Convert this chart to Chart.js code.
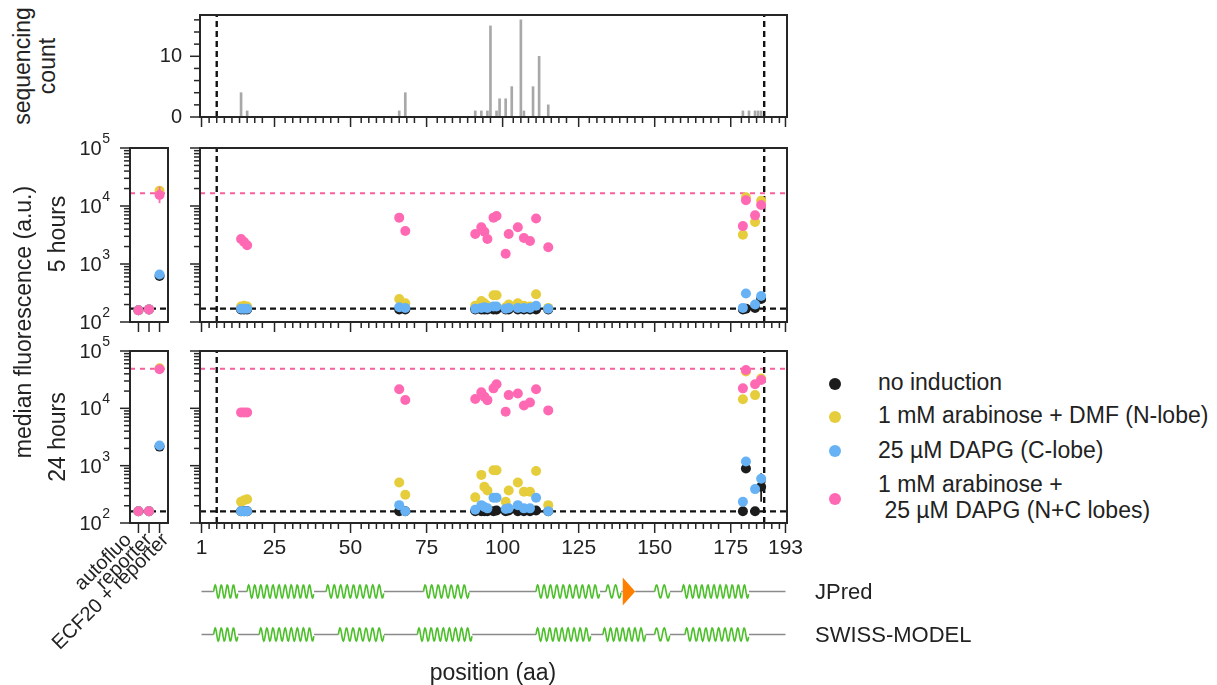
<!DOCTYPE html>
<html><head><meta charset="utf-8">
<script src="https://cdn.jsdelivr.net/npm/chart.js@4.4.1/dist/chart.umd.min.js"></script>
<style>
html,body{margin:0;padding:0;background:#fff;}
body{width:1217px;height:685px;position:relative;overflow:hidden;font-family:'Liberation Sans',Arial,Helvetica,sans-serif;color:#222;}
canvas{position:absolute;}
.t{position:absolute;white-space:pre;line-height:1;}
.dot{position:absolute;border-radius:50%;}
</style></head><body>
<script>
// ---------------- data ----------------
const X_TICKS = [1, 25, 50, 75, 100, 125, 150, 175, 193];
const Y_LOG_TICKS = [100, 1000, 10000, 100000];
const SEQ_Y_TICKS = [0, 10];
const DOMAIN_BOUNDS = [6, 186];

// sequencing histogram
const seqPos   = [14, 16, 66, 68, 91, 93, 95, 96, 98, 99, 101, 103, 106, 107, 110, 112, 115, 179, 181, 183, 184, 185];
const seqCount = [ 4,  1,  1,  4,  1,  1,  1, 15,  1,  3,   3,   5,  16,   1,   5,  10,   2,   1,   1,   1,   1,   1];

// mutant positions (aa)
const positions = [14, 15, 16, 66, 68, 91, 93, 94, 95, 97, 98, 101, 102, 105, 107, 109, 111, 115, 179, 180, 183, 185];

// 5 hours
const h5_none = [165,165,165,165,165,165,165,165,165,165,165,165,165,165,165,165,165,165,165,170,175,250];
const h5_arab = [185,190,185,250,210,190,230,210,190,290,290,180,200,210,190,185,300,175,3200,14100,5300,12300];
const h5_dapg = [170,170,170,180,175,170,175,180,175,185,185,170,175,175,175,175,190,170,175,310,200,280];
const h5_both = [2700,2400,2100,6300,3700,3300,4300,3600,2700,6300,6700,1500,3300,4300,2800,2500,6100,1950,4500,12600,6900,10400];

// 24 hours
const h24_none = [160,160,160,160,160,160,160,160,160,160,165,160,165,160,160,160,165,160,160,890,160,430];
const h24_arab = [235,250,260,510,310,280,690,430,370,830,830,235,370,510,350,350,810,205,14400,44000,17000,33000];
const h24_dapg = [160,160,160,205,160,170,205,190,180,275,275,175,180,205,180,180,275,160,235,1180,390,590];
const h24_both = [8500,8500,8500,21500,14000,14500,19000,16000,13900,22300,26400,8700,17000,18200,11200,12600,21500,9200,22300,46500,26300,31200];

// controls
const ctrlCats = ['autofluo', 'reporter', 'ECF20 + reporter'];
const c5_none = [160, 165, 620],   c5_arab = [160, 165, 18300], c5_dapg = [160, 165, 660],  c5_both = [160, 165, 15500];
const c24_none = [160, 160, 2150], c24_arab = [160, 160, 50000], c24_dapg = [160, 160, 2250], c24_both = [160, 160, 48000];

// visible error bars: [x, low, high]
const err5_both_ctrl = [[2, 11200, 21500]];
const err5_both = [[179, 3900, 5200]];
const err24_none = [[180, 790, 1000], [185, 235, 735]];

// reference levels (reporter alone, ECF20 + reporter)
const ref5 = [170, 16600];
const ref24 = [160, 49000];

// secondary structure (aa ranges)
const jpredHelix = [[5,13],[16,38],[42,61],[74,89],[111,132],[134,139],[150,155],[159,181]];
const jpredStrand = [[139.5,143.6]];
const swissHelix = [[5,13],[20,38],[46,61],[72,90],[111,129],[133,147],[150,155],[160,181]];

// ---------------- style ----------------
const FONT = "'Liberation Sans', Arial, Helvetica, sans-serif";
const TXT = '#222';
const AX = '#262626';
const C_NONE = '#1c1c1c', C_ARAB = '#e6cd3c', C_DAPG = '#66b2f5', C_BOTH = '#ff69b4';
const PINK_DASH = '#f7609f';
const PT_R = 5;
const MAJ = 10, MIN = 6;
const CAT_LABEL_SHIFT = [-10, 0, 6];   // px shift of rotated label ends

const xMinor = [];
for (let v = 3.5; v < 193.5; v += 2.5) if (!X_TICKS.some(m => Math.abs(m - v) < 1.6)) xMinor.push(v);
const logMinor = [];
for (let e = 2; e < 5; e++) for (let m = 2; m < 10; m++) logMinor.push(m * Math.pow(10, e));
const seqMinor = [2, 4, 6, 8, 12, 14, 16];

function makeCanvas(b) {
  const c = document.createElement('canvas');
  c.width = b.w; c.height = b.h;
  c.style.left = b.l + 'px'; c.style.top = b.t + 'px';
  c.style.width = b.w + 'px'; c.style.height = b.h + 'px';
  document.body.appendChild(c);
  return c;
}
function padFor(b, a, yW, xH) {
  return {left: a.l - b.l - yW, right: b.l + b.w - a.r, top: a.t - b.t, bottom: b.t + b.h - a.b - xH};
}
function decor(cfg) {
  return {
    id: 'decor',
    afterDatasetsDraw(chart) {
      const {ctx, chartArea: a, scales} = chart;
      const xs = scales.x, ys = scales.y;
      ctx.save();
      ctx.strokeStyle = AX; ctx.lineWidth = 1.5;
      const line = (x1, y1, x2, y2) => { ctx.beginPath(); ctx.moveTo(x1, y1); ctx.lineTo(x2, y2); ctx.stroke(); };
      const xt = (vals, len) => vals.forEach(v => { const p = xs.getPixelForValue(v); if (p < a.left - 1 || p > a.right + 1) return; line(p, a.bottom, p, a.bottom + len); });
      const yt = (vals, len) => vals.forEach(v => { const p = ys.getPixelForValue(v); if (p < a.top - 1 || p > a.bottom + 1) return; line(a.left, p, a.left - len, p); });
      if (cfg.xMajor) xt(cfg.xMajor, MAJ);
      if (cfg.xMinor) xt(cfg.xMinor, MIN);
      if (cfg.yMajor) yt(cfg.yMajor, MAJ);
      if (cfg.yMinor) yt(cfg.yMinor, MIN);
      ctx.lineWidth = 2;
      ctx.strokeRect(a.left, a.top, a.right - a.left, a.bottom - a.top);
      ctx.fillStyle = TXT;
      if (cfg.supLabels) {
        cfg.supLabels.forEach(v => {
          const p = ys.getPixelForValue(v);
          const e = String(Math.round(Math.log10(v)));
          const xEnd = a.left - 20;
          ctx.font = '14px ' + FONT; const w2 = ctx.measureText(e).width;
          ctx.textAlign = 'left'; ctx.textBaseline = 'alphabetic';
          ctx.fillText(e, xEnd - w2, p - 5);
          ctx.font = '20px ' + FONT; ctx.textAlign = 'right';
          ctx.fillText('10', xEnd - w2 - 0.5, p + 7);
        });
      }
      if (cfg.rotLabels) {
        ctx.font = '20px ' + FONT; ctx.textAlign = 'right'; ctx.textBaseline = 'middle';
        cfg.rotLabels.forEach((s, i) => {
          const p = xs.getPixelForValue(i) + CAT_LABEL_SHIFT[i];
          ctx.save();
          ctx.translate(p, a.bottom + 14);
          ctx.rotate(-Math.PI / 4);
          ctx.fillText(s, 0, 0);
          ctx.restore();
        });
      }
      ctx.restore();
    }
  };
}
function pts(xs, ys, color, order) {
  return {type: 'scatter', data: xs.map((x, i) => ({x, y: ys[i]})), pointRadius: PT_R, pointHoverRadius: PT_R,
    pointBackgroundColor: color, pointBorderWidth: 0, backgroundColor: color, borderColor: color, order};
}
function seg(x1, y1, x2, y2, color, width, dash, order) {
  return {type: 'line', data: [{x: x1, y: y1}, {x: x2, y: y2}], borderColor: color, borderWidth: width,
    borderDash: dash, pointRadius: 0, showLine: true, fill: false, order: order || 10};
}
function errs(list, color, order) {
  return list.map(([x, lo, hi]) => seg(x, lo, x, hi, color, 1.8, [], order));
}
const baseOpts = (pad) => ({
  responsive: false, animation: false, events: [],
  layout: {padding: pad},
  plugins: {legend: {display: false}, tooltip: {enabled: false}}
});
const hidY = (yW, type, min, max) => ({type, min, max, grid: {display: false, drawTicks: false}, border: {display: false},
  ticks: {display: false}, afterFit: s => { s.width = yW; s.paddingTop = 0; s.paddingBottom = 0; }});

// ---------------- sequencing histogram ----------------
(function () {
  const b = {l: 150, t: 0, w: 660, h: 140}, a = {l: 200, r: 787, t: 15, b: 117};
  const cv = makeCanvas(b);
  new Chart(cv, {
    type: 'bar',
    data: {datasets: [
      {type: 'bar', data: seqPos.map((p, i) => ({x: p, y: seqCount[i]})), backgroundColor: '#a8a8a8', barThickness: 2, order: 5},
      seg(DOMAIN_BOUNDS[0], 0, DOMAIN_BOUNDS[0], 16.8, '#111', 2.4, [6, 4]),
      seg(DOMAIN_BOUNDS[1], 0, DOMAIN_BOUNDS[1], 16.8, '#111', 2.4, [6, 4])
    ]},
    options: Object.assign(baseOpts(padFor(b, a, 50, 12)), {
      scales: {
        x: {type: 'linear', min: 0.5, max: 193.5, offset: false, grid: {display: false, drawTicks: false, offset: false}, border: {display: false},
          ticks: {display: false}, afterFit: s => { s.height = 12; s.paddingLeft = 0; s.paddingRight = 0; }},
        y: {type: 'linear', min: 0, max: 16.8, grid: {display: false, drawTicks: false}, border: {display: false},
          ticks: {display: true, padding: 18, color: TXT, font: {family: FONT, size: 20}},
          afterBuildTicks: s => { s.ticks = SEQ_Y_TICKS.map(v => ({value: v})); },
          afterFit: s => { s.width = 50; s.paddingTop = 0; s.paddingBottom = 0; }}
      }
    }),
    plugins: [decor({xMajor: X_TICKS, xMinor, yMajor: SEQ_Y_TICKS, yMinor: seqMinor})]
  });
})();

// ---------------- main panels ----------------
function mainPanel(b, a, xH, none, arab, dapg, both, ref, labels, extra) {
  const cv = makeCanvas(b);
  new Chart(cv, {
    type: 'scatter',
    data: {datasets: [
      seg(DOMAIN_BOUNDS[0], 100, DOMAIN_BOUNDS[0], 100000, '#111', 2.4, [6, 4]),
      seg(DOMAIN_BOUNDS[1], 100, DOMAIN_BOUNDS[1], 100000, '#111', 2.4, [6, 4]),
      seg(0.5, ref[0], 193.5, ref[0], '#111', 2.2, [6, 4]),
      seg(0.5, ref[1], 193.5, ref[1], PINK_DASH, 2, [5, 5]),
      ...extra,
      pts(positions, none, C_NONE, 4),
      pts(positions, arab, C_ARAB, 3),
      pts(positions, dapg, C_DAPG, 2),
      pts(positions, both, C_BOTH, 1)
    ]},
    options: Object.assign(baseOpts(padFor(b, a, 10, xH)), {
      scales: {
        x: {type: 'linear', min: 0.5, max: 193.5, grid: {display: false, drawTicks: false}, border: {display: false},
          ticks: {display: labels, autoSkip: false, maxRotation: 0, minRotation: 0, padding: 13, color: TXT,
            font: {family: FONT, size: 21}, callback: v => String(v)},
          afterBuildTicks: s => { s.ticks = X_TICKS.map(v => ({value: v})); },
          afterFit: s => { s.height = xH; s.paddingLeft = 0; s.paddingRight = 0; }},
        y: hidY(10, 'logarithmic', 100, 100000)
      }
    }),
    plugins: [decor({xMajor: X_TICKS, xMinor, yMajor: Y_LOG_TICKS, yMinor: logMinor})]
  });
}
mainPanel({l: 190, t: 135, w: 620, h: 200}, {l: 200, r: 787, t: 148, b: 322}, 12, h5_none, h5_arab, h5_dapg, h5_both, ref5, false,
  errs(err5_both, C_BOTH, 1));
mainPanel({l: 190, t: 338, w: 620, h: 240}, {l: 200, r: 787, t: 351, b: 523}, 40, h24_none, h24_arab, h24_dapg, h24_both, ref24, true,
  errs(err24_none, C_NONE, 4));

// ---------------- control panels ----------------
function ctrlPanel(b, a, xH, none, arab, dapg, both, ref, labels, extra) {
  const cv = makeCanvas(b);
  const cx = [0, 1, 2];
  new Chart(cv, {
    type: 'scatter',
    data: {datasets: [
      seg(-0.8, ref[0], 2.8, ref[0], '#111', 2.2, [6, 4]),
      seg(-0.8, ref[1], 2.8, ref[1], PINK_DASH, 2, [5, 5]),
      ...extra,
      pts(cx, none, C_NONE, 4),
      pts(cx, arab, C_ARAB, 3),
      pts(cx, dapg, C_DAPG, 2),
      pts(cx, both, C_BOTH, 1)
    ]},
    options: Object.assign(baseOpts(padFor(b, a, 60, xH)), {
      scales: {
        x: {type: 'linear', min: -0.8, max: 2.8, grid: {display: false, drawTicks: false}, border: {display: false},
          ticks: {display: false},
          afterBuildTicks: s => { s.ticks = cx.map(v => ({value: v})); },
          afterFit: s => { s.height = xH; s.paddingLeft = 0; s.paddingRight = 0; }},
        y: hidY(60, 'logarithmic', 100, 100000)
      }
    }),
    plugins: [decor({xMajor: cx, yMajor: Y_LOG_TICKS, yMinor: logMinor, supLabels: Y_LOG_TICKS, rotLabels: labels ? ctrlCats : null})]
  });
}
ctrlPanel({l: 0, t: 125, w: 190, h: 210}, {l: 130, r: 168, t: 148, b: 322}, 12, c5_none, c5_arab, c5_dapg, c5_both, ref5, false,
  errs(err5_both_ctrl, C_BOTH, 1));
ctrlPanel({l: 0, t: 330, w: 190, h: 355}, {l: 130, r: 168, t: 351, b: 523}, 120, c24_none, c24_arab, c24_dapg, c24_both, ref24, true, []);

// ---------------- secondary structure track ----------------
(function () {
  const b = {l: 190, t: 560, w: 620, h: 100}, a = {l: 200, r: 787, t: 570, b: 656};
  const ROW_J = 1.5, ROW_S = 0.5;
  const cv = makeCanvas(b);
  const helix = {
    id: 'helix',
    afterDatasetsDraw(chart) {
      const {ctx, scales: {x, y}} = chart;
      ctx.save();
      [[jpredHelix, ROW_J], [swissHelix, ROW_S]].forEach(([rows, rv]) => {
        const yc = y.getPixelForValue(rv);
        rows.forEach(([s, e]) => {
          const x0 = x.getPixelForValue(s), x1 = x.getPixelForValue(e);
          ctx.fillStyle = '#fff'; ctx.fillRect(x0, yc - 2, x1 - x0, 4);
          const n = Math.max(1, Math.round((x1 - x0) / 6.2)), lam = (x1 - x0) / n;
          ctx.beginPath();
          for (let d = 0; d <= x1 - x0 + 0.01; d += 0.5) {
            const yy = yc - 6.5 * Math.sin(2 * Math.PI * d / lam);
            if (d === 0) ctx.moveTo(x0 + d, yy); else ctx.lineTo(x0 + d, yy);
          }
          ctx.strokeStyle = '#4cbf2a'; ctx.lineWidth = 1.6; ctx.stroke();
        });
      });
      jpredStrand.forEach(([s, e]) => {
        const x0 = x.getPixelForValue(s), x1 = x.getPixelForValue(e), yc = y.getPixelForValue(ROW_J);
        ctx.fillStyle = '#fff'; ctx.fillRect(x0, yc - 2, x1 - x0, 4);
        ctx.fillStyle = '#ff8000';
        ctx.beginPath(); ctx.moveTo(x0, yc - 14); ctx.lineTo(x1, yc); ctx.lineTo(x0, yc + 14); ctx.closePath(); ctx.fill();
      });
      ctx.restore();
    }
  };
  new Chart(cv, {
    type: 'scatter',
    data: {datasets: [
      seg(1, ROW_J, 193, ROW_J, '#8a8a8a', 1.5, []),
      seg(1, ROW_S, 193, ROW_S, '#8a8a8a', 1.5, [])
    ]},
    options: Object.assign(baseOpts({left: a.l - b.l, right: b.l + b.w - a.r, top: a.t - b.t, bottom: b.t + b.h - a.b}), {
      scales: {x: {type: 'linear', min: 0.5, max: 193.5, display: false}, y: {type: 'linear', min: 0, max: 2, display: false}}
    }),
    plugins: [helix]
  });
})();

// ---------------- text ----------------
function text(str, x, y, size, mode) {
  const d = document.createElement('div');
  d.className = 't'; d.textContent = str;
  d.style.fontSize = size + 'px'; d.style.left = x + 'px'; d.style.top = y + 'px';
  if (mode === 'rot') d.style.transform = 'translate(-50%,-50%) rotate(-90deg)';
  else if (mode === 'left') d.style.transform = 'translate(0,-50%)';
  else d.style.transform = 'translate(-50%,-50%)';
  document.body.appendChild(d);
}
text('sequencing', 22, 66, 23, 'rot');
text('count', 47, 66, 23, 'rot');
text('median fluorescence (a.u.)', 23, 322, 23, 'rot');
text('5 hours', 57, 234, 23, 'rot');
text('24 hours', 57, 437, 23, 'rot');
text('JPred', 815, 592, 22, 'left');
text('SWISS-MODEL', 815, 635, 22, 'left');
text('position (aa)', 493, 672, 23, 'c');

const legendItems = [
  {c: C_NONE, y: 384, lines: [['no induction', 382]]},
  {c: C_ARAB, y: 417, lines: [['1 mM arabinose + DMF (N-lobe)', 415]]},
  {c: C_DAPG, y: 451, lines: [['25 \u00b5M DAPG (C-lobe)', 450]]},
  {c: C_BOTH, y: 499, lines: [['1 mM arabinose +', 484], [' 25 \u00b5M DAPG (N+C lobes)', 510]]}
];
legendItems.forEach(it => {
  const d = document.createElement('div'); d.className = 'dot';
  d.style.width = '12px'; d.style.height = '12px'; d.style.background = it.c;
  d.style.left = (835 - 6) + 'px'; d.style.top = (it.y - 6) + 'px';
  document.body.appendChild(d);
  it.lines.forEach(([s, yy]) => text(s, 878, yy, 23, 'left'));
});
</script>
</body></html>
